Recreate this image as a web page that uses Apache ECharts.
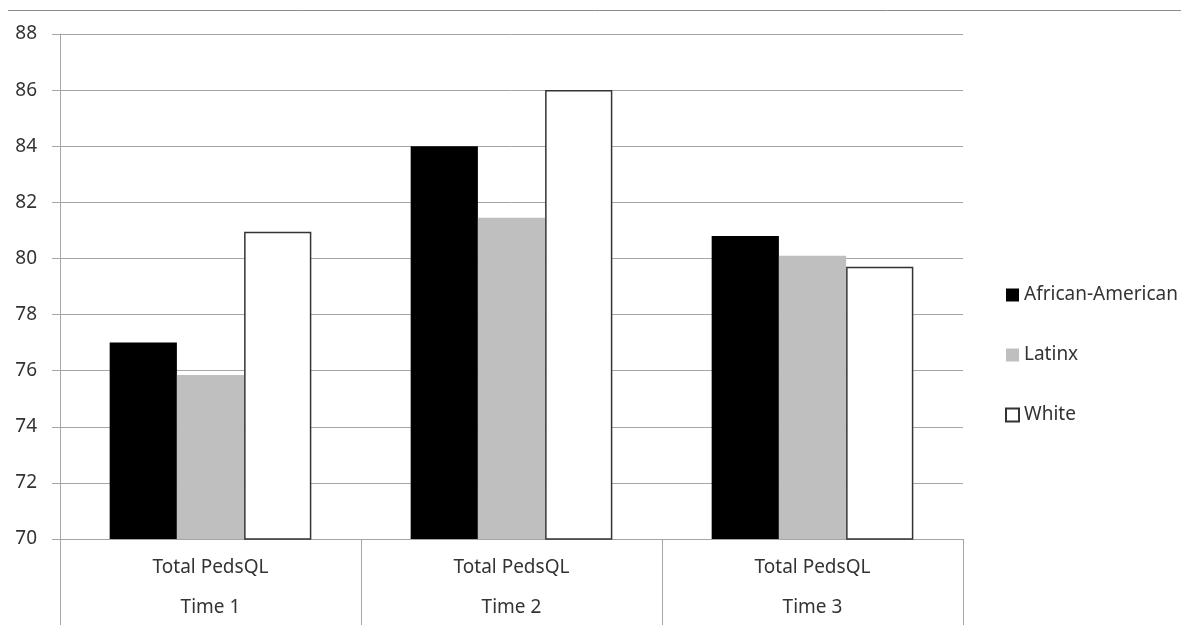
<!DOCTYPE html>
<html>
<head>
<meta charset="utf-8">
<script src="https://cdn.jsdelivr.net/npm/echarts@6/dist/echarts.min.js"></script>
<style>html,body{margin:0;padding:0;background:#fff;}#c{width:1181px;height:631px;}</style>
</head>
<body>
<div id="c"></div>
<script>
const categories = ['Time 1', 'Time 2', 'Time 3'];
const subLabel = 'Total PedsQL';
const africanAmerican = [77.0, 84.0, 80.8];
const latinx = [75.85, 81.45, 80.1];
const white = [80.95, 86.0, 79.7];
const seriesNames = ['African-American', 'Latinx', 'White'];

const chart = echarts.init(document.getElementById('c'));
const font = 'Noto Sans, Open Sans, sans-serif';
chart.setOption({
  animation: false,
  backgroundColor: '#fff',
  graphic: [{
    type: 'line', shape: {x1: 8, y1: 10.5, x2: 1181, y2: 10.5},
    style: {stroke: '#8c8c8c', lineWidth: 1}
  }],
  grid: {left: 60, right: 218, top: 34, bottom: 92},
  legend: {
    orient: 'vertical', left: 1000, top: 280, itemWidth: 13, itemHeight: 13, itemGap: 40,
    icon: 'rect',
    textStyle: {fontFamily: font, fontSize: 19, lineHeight: 20, color: '#333'},
    data: seriesNames
  },
  xAxis: {
    type: 'category', data: categories,
    axisLine: {lineStyle: {color: '#a6a6a6'}},
    axisTick: {show: true, length: 86, interval: 0, lineStyle: {color: '#a6a6a6'}},
    axisLabel: {
      interval: 0, margin: 9,
      formatter: v => '{a|' + subLabel + '}\n{a|' + v + '}',
      rich: {a: {fontFamily: font, fontSize: 19, color: '#333', lineHeight: 40}}
    }
  },
  yAxis: {
    type: 'value', min: 70, max: 88, interval: 2,
    axisLine: {show: true, lineStyle: {color: '#a6a6a6'}},
    axisTick: {show: true, length: 8, lineStyle: {color: '#a6a6a6'}},
    axisLabel: {fontFamily: font, fontSize: 19, color: '#333', margin: 23},
    splitLine: {lineStyle: {color: '#a6a6a6'}}
  },
  series: [
    {name: seriesNames[0], type: 'bar', data: africanAmerican, barGap: '0%', barCategoryGap: '33%',
     itemStyle: {color: '#000'}},
    {name: seriesNames[1], type: 'bar', data: latinx, itemStyle: {color: '#bfbfbf'}},
    {name: seriesNames[2], type: 'bar', data: white, itemStyle: {color: '#fff', borderColor: '#333', borderWidth: 1.5}}
  ]
});
</script>
</body>
</html>
